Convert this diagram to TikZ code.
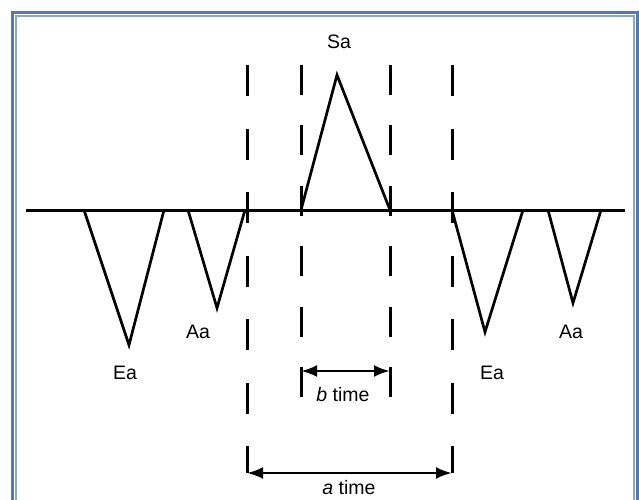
\documentclass[tikz,border=0pt]{standalone}
\usepackage{fontspec}
\setmainfont{Liberation Sans}
\usetikzlibrary{arrows.meta}

\definecolor{framedark}{RGB}{84,121,181}
\definecolor{framelight}{RGB}{140,166,210}

\tikzset{
  trace/.style={line width=3pt},
  spike/.style={line width=2.7pt, line join=miter},
  gate/.style={line width=3pt, dash pattern=on 31pt off 32.5pt},
  gatein/.style={line width=3pt, dash pattern=on 30pt off 30.4pt},
  span/.style={line width=2.8pt, {Latex[length=16pt,width=12pt]}-{Latex[length=16pt,width=12pt]}},
  lbl/.style={font=\fontsize{19.5}{23}\selectfont, inner sep=0pt},
}

\begin{document}
\begin{tikzpicture}[x=1pt,y=-1pt]
\useasboundingbox (0,0) rectangle (639,499);
\clip (0,0) rectangle (639,499);

% frame
\draw[framedark, line width=3pt] (12.5,12.5) rectangle (637.5,530);
\draw[framelight, line width=1.2pt] (16,16) rectangle (634,530);

% baseline
\coordinate (lineL) at (26,210);
\coordinate (lineR) at (625,210);
\draw[trace] (lineL) -- (lineR);

% gate positions
\coordinate (aL) at (247,473);
\coordinate (aR) at (452,473);
\coordinate (bL) at (301,371);
\coordinate (bR) at (390,371);

% dashed gates
\draw[gate] (247,65) -- (aL);
\draw[gate] (452,65) -- (aR);
\draw[gatein] (301,65) -- (301,397);
\draw[gatein] (390,65) -- (390,397);

% pulses
\draw[spike] (84,210) -- (129,345) -- (164,210);
\draw[spike] (188,210) -- (217,308) -- (245,210);
\draw[spike] (301,210) -- (337,75) -- (390,210);
\draw[spike] (452,210) -- (485,332) -- (523,210);
\draw[spike] (548,210) -- (573,303) -- (601,210);

% labels
\node[lbl] (sa) at (339,42) {Sa};
\node[lbl] (ea1) at (125,373) {Ea};
\node[lbl] (aa1) at (198,332) {Aa};
\node[lbl] (ea2) at (492,373) {Ea};
\node[lbl] (aa2) at (571,332) {Aa};

% time spans
\draw[span] (bL) -- (bR);
\draw[span] (aL) -- (aR);
\node[lbl] (btime) at (343,395) {\textit{b} time};
\node[lbl] (atime) at (349,488) {\textit{a} time};
\end{tikzpicture}
\end{document}
